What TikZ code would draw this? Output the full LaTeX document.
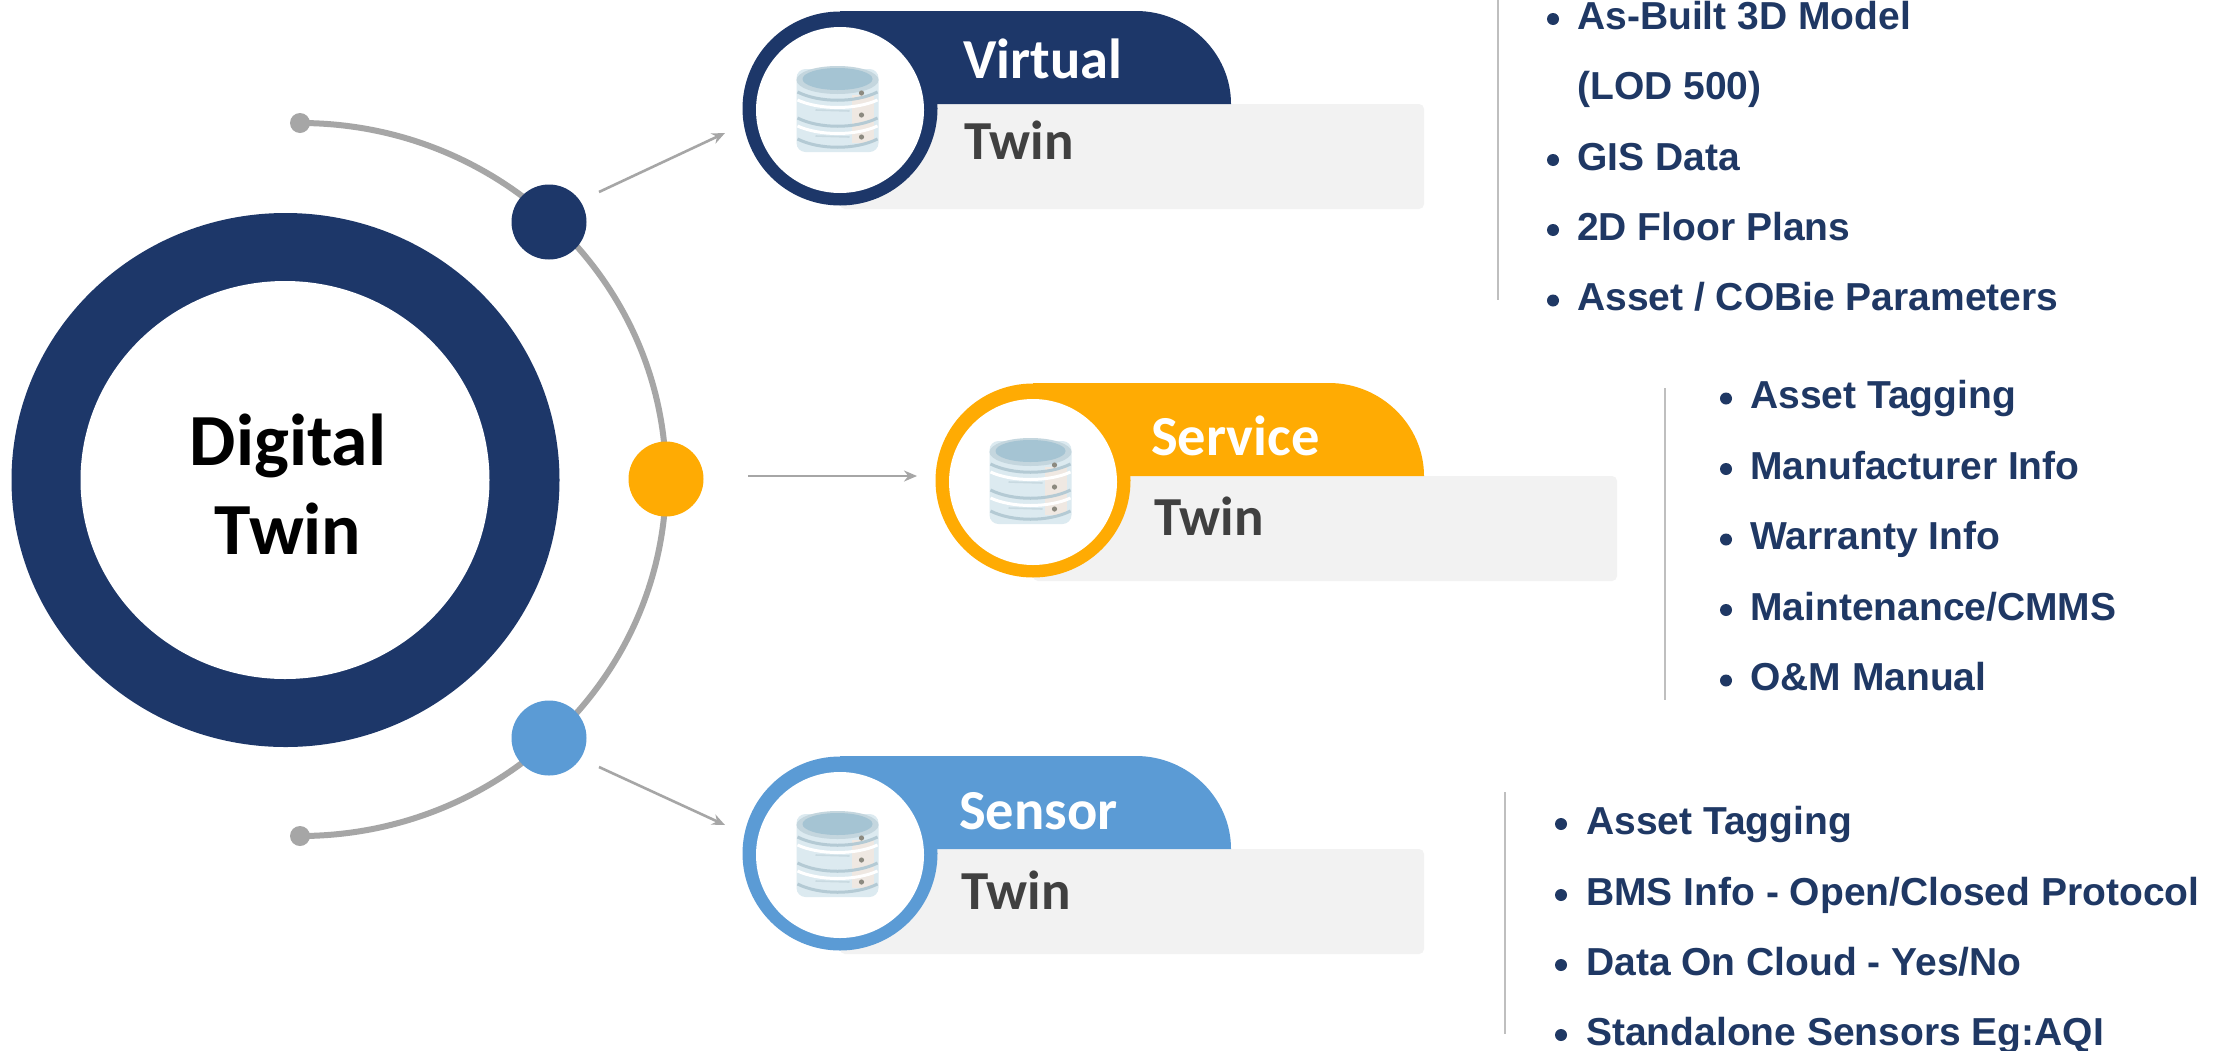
\documentclass[tikz,border=0pt]{standalone}
\usepackage{fontspec}
\setmainfont{Carlito}
\newfontfamily\listfont{Liberation Sans}
\usetikzlibrary{arrows.meta}
\definecolor{navy}{HTML}{1D3769}
\definecolor{amber}{HTML}{FFAB03}
\definecolor{sky}{HTML}{5B9BD5}
\definecolor{arcgray}{HTML}{A6A6A6}
\definecolor{cardgray}{HTML}{F2F2F2}
\definecolor{divgray}{HTML}{BFBFBF}
\definecolor{listblue}{HTML}{1F3864}
\definecolor{twintext}{HTML}{404040}
\definecolor{dbbody}{HTML}{DCEAF0}
\definecolor{dbpeach}{HTML}{EFE8E2}
\definecolor{dbtop}{HTML}{A5C4D3}
\definecolor{dbrim}{HTML}{C4D6DE}
\definecolor{dbband}{HTML}{B4CAD4}
\definecolor{dbfaint}{HTML}{C9DAE1}
\definecolor{dbmark}{HTML}{8C8A80}
\tikzset{
  hub/.style={circle,minimum size=75pt,inner sep=0pt,fill=#1},
  arcline/.style={draw=arcgray,line width=6pt},
  pointer/.style={draw=arcgray,line width=2.6pt,-{Stealth[length=13pt,width=11pt]}},
  divider/.style={draw=divgray,line width=2.4pt},
  item/.style={font=\listfont\bfseries\fontsize{39}{39}\selectfont,text=listblue,anchor=base west,inner sep=0pt},
  dot/.style={circle,fill=listblue,minimum size=12pt,inner sep=0pt},
  cardhead/.style={font=\bfseries\fontsize{56.5}{56.5}\selectfont,text=white,anchor=base west,inner sep=0pt},
  cardbody/.style={font=\bfseries\fontsize{55}{55}\selectfont,text=twintext,anchor=base west,inner sep=0pt},
  title/.style={font=\bfseries\fontsize{73.5}{73.5}\selectfont,text=black,inner sep=0pt},
  pics/dbicon/.style={code={
    \fill[fill=dbbody,rounded corners=9pt] (-41,-40) rectangle (41,43);
    \fill[fill=dbpeach] (14,-14) rectangle (36,34);
    \foreach \yy in {-17,9,30}{
      \draw[draw=dbband,line width=3pt] (-40,\yy) .. controls (-18,\yy+11) and (18,\yy+11) .. (40,\yy);
    }
    \foreach \yy in {-9,17}{
      \draw[draw=white,line width=3pt] (-40,\yy) .. controls (-18,\yy+10) and (18,\yy+10) .. (40,\yy);
      \draw[draw=dbfaint,line width=1.6pt] (-22,\yy+10) -- (12,\yy+11);
    }
    \fill[fill=dbrim] (0,-29) ellipse[x radius=41,y radius=14];
    \fill[fill=dbtop] (0,-30) ellipse[x radius=35,y radius=11];
    \foreach \yy in {-16,6,28}{
      \fill[fill=dbmark] (24,\yy) circle[radius=2.6];
    }
  }}
}
\newcommand{\twincard}[3]{%
  \begin{scope}[shift={(#1,#2)}]
    \fill[cardgray,rounded corners=5pt] (840,104) rectangle (1424,209);
    \fill[#3] (840,11) -- (1136,11) .. controls (1188,11) and (1231,53) .. (1231,104) -- (840,104) -- cycle;
    \fill[#3] (840,108.5) ellipse[x radius=97.5,y radius=97];
    \fill[white] (840,110) ellipse[x radius=84,y radius=83];
    \pic at (837.5,109) {dbicon};
  \end{scope}%
}
\begin{document}
\begin{tikzpicture}[x=1pt,y=-1pt]
\useasboundingbox (0,0) rectangle (2226,1050);
\fill[white] (0,0) rectangle (2226,1050);

% outer arc and end dots
\node[circle,fill=arcgray,minimum size=20pt,inner sep=0pt] (topend) at (300,123) {};
\node[circle,fill=arcgray,minimum size=20pt,inner sep=0pt] (botend) at (300,836) {};
\draw[arcline] (topend.center) arc[start angle=-90,end angle=90,x radius=366,y radius=356.5];

% central ring
\fill[navy] (285.5,480) ellipse[x radius=274,y radius=267];
\fill[white] (285,480) ellipse[x radius=204.5,y radius=199];
\node[title] (digital) at (288,446) {Digital};
\node[title] (twin) at (288,529) {Twin};

% hubs
\node[hub=navy] (hubA) at (549,222) {};
\node[hub=amber] (hubB) at (666,479) {};
\node[hub=sky] (hubC) at (549,738) {};

% pointers
\coordinate (a1) at (599,192); \coordinate (a2) at (725,133);
\coordinate (b1) at (748,476); \coordinate (b2) at (917,476);
\coordinate (c1) at (599,767); \coordinate (c2) at (725,825);
\draw[pointer] (a1) -- (a2);
\draw[pointer] (b1) -- (b2);
\draw[pointer] (c1) -- (c2);

% cards
\twincard{0}{0}{navy}
\twincard{193}{372}{amber}
\twincard{0}{745}{sky}
\node[cardhead] (h1) at (963,78) {Virtual};
\node[cardbody] (t1) at (964,159) {Twin};
\node[cardhead] (h2) at (1151,455) {Service};
\node[cardbody] (t2) at (1154,535) {Twin};
\node[cardhead] (h3) at (959,829) {Sensor};
\node[cardbody] (t3) at (961,909) {Twin};

% dividers
\coordinate (d1a) at (1498,0);    \coordinate (d1b) at (1498,300);
\coordinate (d2a) at (1665,388);  \coordinate (d2b) at (1665,700);
\coordinate (d3a) at (1505,792);  \coordinate (d3b) at (1505,1034);
\draw[divider] (d1a) -- (d1b);
\draw[divider] (d2a) -- (d2b);
\draw[divider] (d3a) -- (d3b);

% lists
\node[item] (v1) at (1577,29) {As-Built 3D Model};
\node[item] (v2) at (1577,99.5) {(LOD 500)};
\node[item] (v3) at (1577,170) {GIS Data};
\node[item] (v4) at (1577,240) {2D Floor Plans};
\node[item] (v5) at (1577,310.5) {Asset / COBie Parameters};
\foreach \yy in {29,170,240,310.5} \node[dot] at (1553,\yy-10) {};

\node[item] (s1) at (1750,408.5) {Asset Tagging};
\node[item] (s2) at (1750,479) {Manufacturer Info};
\node[item] (s3) at (1750,549.5) {Warranty Info};
\node[item] (s4) at (1750,620) {Maintenance/CMMS};
\node[item] (s5) at (1750,690.5) {O\&M Manual};
\foreach \yy in {408.5,479,549.5,620,690.5} \node[dot] at (1726,\yy-10) {};

\node[item] (n1) at (1586,834) {Asset Tagging};
\node[item] (n2) at (1586,905) {BMS Info - Open/Closed Protocol};
\node[item] (n3) at (1586,975) {Data On Cloud - Yes/No};
\node[item] (n4) at (1586,1045) {Standalone Sensors Eg:AQI};
\foreach \yy in {834,905,975,1045} \node[dot] at (1561,\yy-10) {};
\end{tikzpicture}
\end{document}
